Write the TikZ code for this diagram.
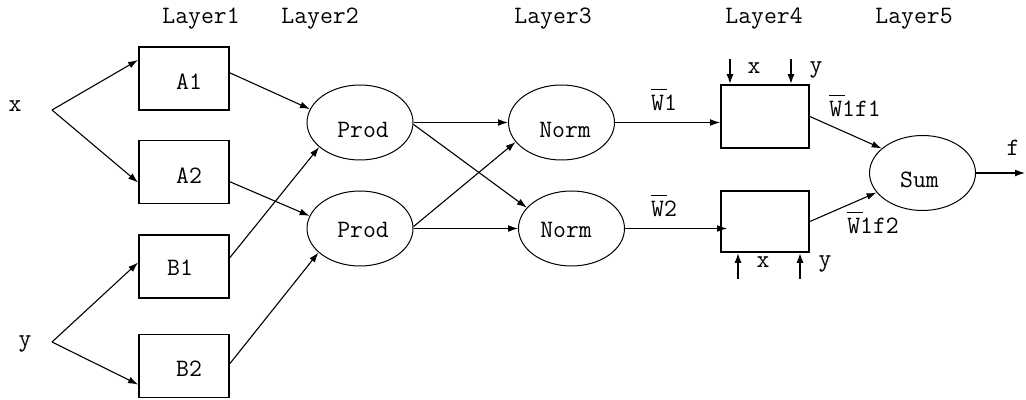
\documentclass[tikz,border=0pt]{standalone}
\usepackage{fontspec}
\usetikzlibrary{shapes.geometric,arrows.meta}

% W with a bar set high above it
\newcommand\wbar{\makebox[0pt][l]{\raisebox{0.82em}{\rule{0.62em}{0.55pt}}}W}

\tikzset{
  txt/.style={inner sep=0pt, font=\ttfamily\fontsize{12.5}{14}\selectfont},
  box/.style={draw, line width=0.9pt, minimum width=45pt, minimum height=31.5pt, inner sep=0pt},
  rulebox/.style={draw, line width=0.9pt, minimum width=44pt, inner sep=0pt},
  op/.style={draw, ellipse, line width=0.5pt, minimum width=53pt, minimum height=37.5pt, inner sep=0pt},
  wire/.style={line width=0.55pt, -{Latex[length=5pt,width=3.4pt]}},
  feed/.style={line width=0.9pt, -{Latex[length=5pt,width=3.6pt]}},
}

\begin{document}
\begin{tikzpicture}[x=0.5pt, y=-0.5pt]
  \useasboundingbox (0,0) rectangle (1026,400);

  % layer headings
  \node[txt] (L1) at (201,19) {Layer1};
  \node[txt] (L2) at (320,19) {Layer2};
  \node[txt] (L3) at (553,19) {Layer3};
  \node[txt] (L4) at (764,19) {Layer4};
  \node[txt] (L5) at (914,19) {Layer5};

  % inputs
  \node[txt] (x) at (15,106) {x};
  \node[txt] (y) at (25,344) {y};
  \coordinate (xs) at (52,110);
  \coordinate (ys) at (52,342);

  % layer 1: membership functions
  \node[box, label={[txt,xshift=2.5pt,yshift=-1.75pt]center:A1}] (A1) at (184,78.5) {};
  \node[box, label={[txt,xshift=2.5pt,yshift=-2pt]center:A2}]    (A2) at (184,172) {};
  \node[box, label={[txt,xshift=-2pt,yshift=-0.75pt]center:B1}]  (B1) at (184,266.5) {};
  \node[box, label={[txt,xshift=2.5pt,yshift=-1.5pt]center:B2}]  (B2) at (184,366) {};

  % layer 2: products
  \node[op, label={[txt,xshift=1.5pt,yshift=-3.75pt]center:Prod}] (P1) at (360,122.5) {};
  \node[op, label={[txt,xshift=1.5pt,yshift=-0.75pt]center:Prod}] (P2) at (360,228.5) {};

  % layer 3: normalisation
  \node[op, label={[txt,xshift=1.75pt,yshift=-3.75pt]center:Norm}] (N1) at (561.5,122.5) {};
  \node[op, label={[txt,xshift=-2.75pt,yshift=-0.75pt]center:Norm}] (N2) at (571.5,228.5) {};

  % layer 4: rule consequents
  \node[rulebox, minimum height=31.5pt] (R1) at (765,116.5) {};
  \node[rulebox, minimum height=30.5pt] (R2) at (765,221.5) {};

  % layer 5: sum
  \node[op, label={[txt,xshift=-1.5pt,yshift=-3.5pt]center:Sum}] (S) at (922.5,173) {};
  \coordinate (out) at (1025,173);
  \node[txt] (f) at (1013,148) {f};

  % inputs to layer 1
  \draw[wire] (xs) -- (A1.158.75);
  \draw[wire] (xs) -- (A2.193.7);
  \draw[wire] (ys) -- (B1.175.6);
  \draw[wire] (ys) -- (B2.202.9);

  % layer 1 to layer 2
  \draw[wire] (A1.7)     -- (P1.165);
  \draw[wire] (A2.-12.5) -- (P2.166);
  \draw[wire] (B1.11.9)  -- (P1.211);
  \draw[wire] (B2.3.8)   -- (P2.210.5);

  % layer 2 to layer 3
  \draw[wire] (P1.east) -- (N1.west);
  \draw[wire] (P1.-2)   -- (N2.155);
  \draw[wire] (P2.2)    -- (N1.203.7);
  \draw[wire] (P2.east) -- (N2.west);

  % layer 3 to layer 4
  \draw[wire] (N1.east) -- (N1.east -| R1.west);
  \draw[wire, shorten >=-3.5pt] (N2.east) -- (N2.east -| R2.west);
  \node[txt, anchor=base] (w1) at (664,111) {\wbar1};
  \node[txt, anchor=base] (w2) at (664,217) {\wbar2};

  % premise inputs of the rule boxes
  \coordinate (r1x) at (730,59);
  \coordinate (r1y) at (791,59);
  \coordinate (r2x) at (738,279);
  \coordinate (r2y) at (800,279);
  \draw[feed] (r1x) -- (r1x |- R1.north);
  \draw[feed] (r1y) -- (r1y |- R1.north);
  \draw[feed] (r2x) -- (r2x |- R2.south);
  \draw[feed] (r2y) -- (r2y |- R2.south);
  \node[txt] (tx1) at (754,68) {x};
  \node[txt] (ty1) at (816,70) {y};
  \node[txt] (tx2) at (763,262) {x};
  \node[txt] (ty2) at (825,264) {y};

  % layer 4 to layer 5
  \draw[wire] (R1.east) -- (S.149.7);
  \draw[wire] (R2.east) -- (S.203);
  \node[txt, anchor=base] (wf1) at (855,117) {\wbar1f1};
  \node[txt, anchor=base] (wf2) at (873,234) {\wbar1f2};

  % output
  \draw[wire] (S.east) -- (out);
\end{tikzpicture}
\end{document}
